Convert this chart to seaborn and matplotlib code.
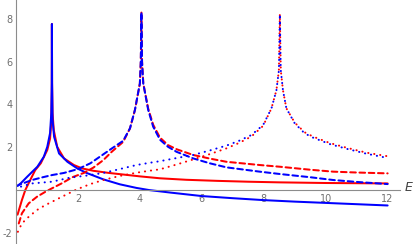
import numpy as np
import pandas as pd
import matplotlib
matplotlib.use("Agg")
import matplotlib.pyplot as plt
import seaborn as sns
from matplotlib.ticker import MultipleLocator, FixedLocator


# curves (E, value)
solid_blue_E = [0.05, 0.15, 0.36, 0.69, 0.9, 1.01, 1.10, 1.14, 1.155, 1.16, 1.165, 1.18, 1.23, 1.39, 1.66,
                1.98, 2.28, 2.82, 3.35, 3.89, 4.3, 5.0, 6.0, 7.0, 8.0, 9.0, 10.0, 11.0, 12.0]
solid_blue_y = [0.19, 0.31, 0.62, 1.09, 1.56, 2.02, 2.66, 3.6, 5.0, 7.76, 5.0, 3.3, 2.49, 1.71, 1.32,
                1.01, 0.8, 0.5, 0.27, 0.1, 0.0, -0.12, -0.28, -0.38, -0.47, -0.54, -0.6, -0.66, -0.72]

solid_red_E = [0.05, 0.19, 0.3, 0.46, 0.62, 0.8, 1.01, 1.10, 1.14, 1.155, 1.16, 1.165, 1.18, 1.22, 1.33,
               1.55, 1.87, 2.14, 2.5, 3.0, 3.5, 4.0, 4.65, 5.5, 6.5, 7.5, 8.5, 10.0, 11.0, 12.0]
solid_red_y = [-1.15, -0.47, 0.0, 0.47, 0.93, 1.25, 1.87, 2.4, 3.2, 4.6, 7.76, 5.0, 3.6, 2.8, 2.02,
               1.48, 1.17, 1.01, 0.9, 0.8, 0.72, 0.64, 0.55, 0.48, 0.43, 0.39, 0.36, 0.33, 0.32, 0.31]

dashed_blue_E = [0.07, 0.52, 0.84, 1.16, 1.55, 2.0, 2.4, 2.75, 3.1, 3.46, 3.68, 3.84, 4.0, 4.03, 4.05, 4.07,
                 4.11, 4.27, 4.43, 4.65, 4.91, 5.18, 5.72, 6.26, 6.8, 7.87, 8.52, 9.5, 10.24, 11.0, 12.0]
dashed_blue_y = [0.23, 0.47, 0.59, 0.7, 0.8, 0.98, 1.25, 1.6, 1.95, 2.3, 2.88, 3.74, 4.98, 6.0, 8.3, 6.0,
                 4.98, 3.74, 2.96, 2.35, 2.02, 1.79, 1.48, 1.25, 1.06, 0.86, 0.75, 0.6, 0.47, 0.38, 0.28]

dashed_red_E = [0.09, 0.19, 0.41, 0.68, 0.95, 1.16, 1.5, 1.82, 2.19, 2.5, 2.82, 3.1, 3.46, 3.68, 3.84, 4.0,
                4.03, 4.05, 4.07, 4.11, 4.27, 4.43, 4.65, 4.91, 5.2, 5.72, 6.26, 6.8, 7.87, 8.52, 9.5,
                10.24, 11.0, 12.0]
dashed_red_y = [-1.56, -1.09, -0.62, -0.31, -0.08, 0.08, 0.33, 0.6, 0.8, 1.05, 1.4, 1.8, 2.25, 2.88, 3.74, 4.98,
                6.0, 8.3, 6.0, 4.98, 3.8, 3.05, 2.45, 2.1, 1.9, 1.64, 1.47, 1.32, 1.17, 1.09, 0.95,
                0.86, 0.82, 0.78]

dotted_blue_E = [0.06, 0.52, 1.16, 1.74, 2.3, 2.82, 3.35, 3.89, 4.3, 4.65, 5.2, 5.72, 6.26, 6.8, 7.2, 7.6,
                 7.98, 8.25, 8.41, 8.49, 8.52, 8.55, 8.62, 8.73, 9.0, 9.32, 9.59, 10.13, 10.67, 11.31, 12.0]
dotted_blue_y = [0.12, 0.31, 0.39, 0.58, 0.68, 0.8, 0.98, 1.17, 1.27, 1.35, 1.5, 1.64, 1.85, 2.08, 2.3, 2.57,
                 3.04, 3.82, 4.67, 5.6, 8.22, 5.6, 4.67, 3.82, 3.12, 2.65, 2.45, 2.15, 1.93, 1.7, 1.5]

dotted_red_E = [0.06, 0.19, 0.41, 0.68, 0.95, 1.16, 1.5, 1.96, 2.4, 2.82, 3.35, 3.89, 4.3, 4.65, 5.2, 5.72,
                6.26, 6.8, 7.2, 7.6, 7.98, 8.25, 8.41, 8.49, 8.52, 8.55, 8.62, 8.73, 9.0, 9.32, 9.59,
                10.13, 10.67, 11.31, 12.0]
dotted_red_y = [-1.95, -1.56, -1.25, -0.93, -0.7, -0.55, -0.3, 0.03, 0.28, 0.47, 0.66, 0.81, 0.9, 0.97, 1.2, 1.43,
                1.68, 1.95, 2.2, 2.5, 3.0, 3.82, 4.67, 5.6, 8.22, 5.6, 4.67, 3.82, 3.15, 2.7, 2.5,
                2.2, 1.98, 1.75, 1.58]

x_ticks = [2, 4, 6, 8, 10, 12]
y_ticks = [-2, 2, 4, 6, 8]

RED = "#ff0000"
BLUE = "#0000ff"
AXIS_GRAY = "#8c8c8c"
LABEL_GRAY = "#707070"

curves = [
    (solid_red_E, solid_red_y, RED, "-"),
    (solid_blue_E, solid_blue_y, BLUE, "-"),
    (dashed_red_E, dashed_red_y, RED, (0, (2.8, 1.8))),
    (dashed_blue_E, dashed_blue_y, BLUE, (1.2, (2.8, 1.8))),
    (dotted_red_E, dotted_red_y, RED, (0, (0.1, 2.9))),
    (dotted_blue_E, dotted_blue_y, BLUE, (1.4, (0.1, 2.9))),
]

sns.set_style("white")
plt.rcParams['font.family'] = ['DejaVu Sans']

fig = plt.figure(figsize=(4.18, 2.44), dpi=100)
ax = fig.add_axes([16 / 418, 0, 384 / 418, 1])

for xs, ys, col, ls in curves:
    df = pd.DataFrame({"E": xs, "v": ys})
    sns.lineplot(data=df, x="E", y="v", ax=ax, color=col, linewidth=1.45,
                 linestyle=ls, dash_capstyle="round", estimator=None, sort=False, legend=False)

ax.set_xlim(0, 12.4)
ax.set_ylim(-2.52, 8.88)

for s in ["top", "right"]:
    ax.spines[s].set_visible(False)
ax.spines["bottom"].set_position(("data", 0))
ax.spines["left"].set_position(("data", 0))
for s in ["bottom", "left"]:
    ax.spines[s].set_color(AXIS_GRAY)
    ax.spines[s].set_linewidth(0.8)

ax.xaxis.set_major_locator(FixedLocator(x_ticks))
ax.yaxis.set_major_locator(FixedLocator(y_ticks))
ax.xaxis.set_minor_locator(MultipleLocator(0.5))
ax.yaxis.set_minor_locator(MultipleLocator(0.5))
ax.set_xticklabels([str(t) for t in x_ticks])
ax.set_yticklabels([str(t) for t in y_ticks])
ax.tick_params(which="major", direction="in", length=3.2, width=0.7, color=AXIS_GRAY,
               labelsize=7, labelcolor=LABEL_GRAY, pad=2.5)
ax.tick_params(which="minor", direction="in", length=1.8, width=0.6, color=AXIS_GRAY)
ax.set_xlabel("")
ax.set_ylabel("")

ax.text(12.55, 0.12, "E", style="italic", fontsize=9, color="#444444",
        ha="left", va="center", clip_on=False)

fig.savefig("out.png", dpi=100)
